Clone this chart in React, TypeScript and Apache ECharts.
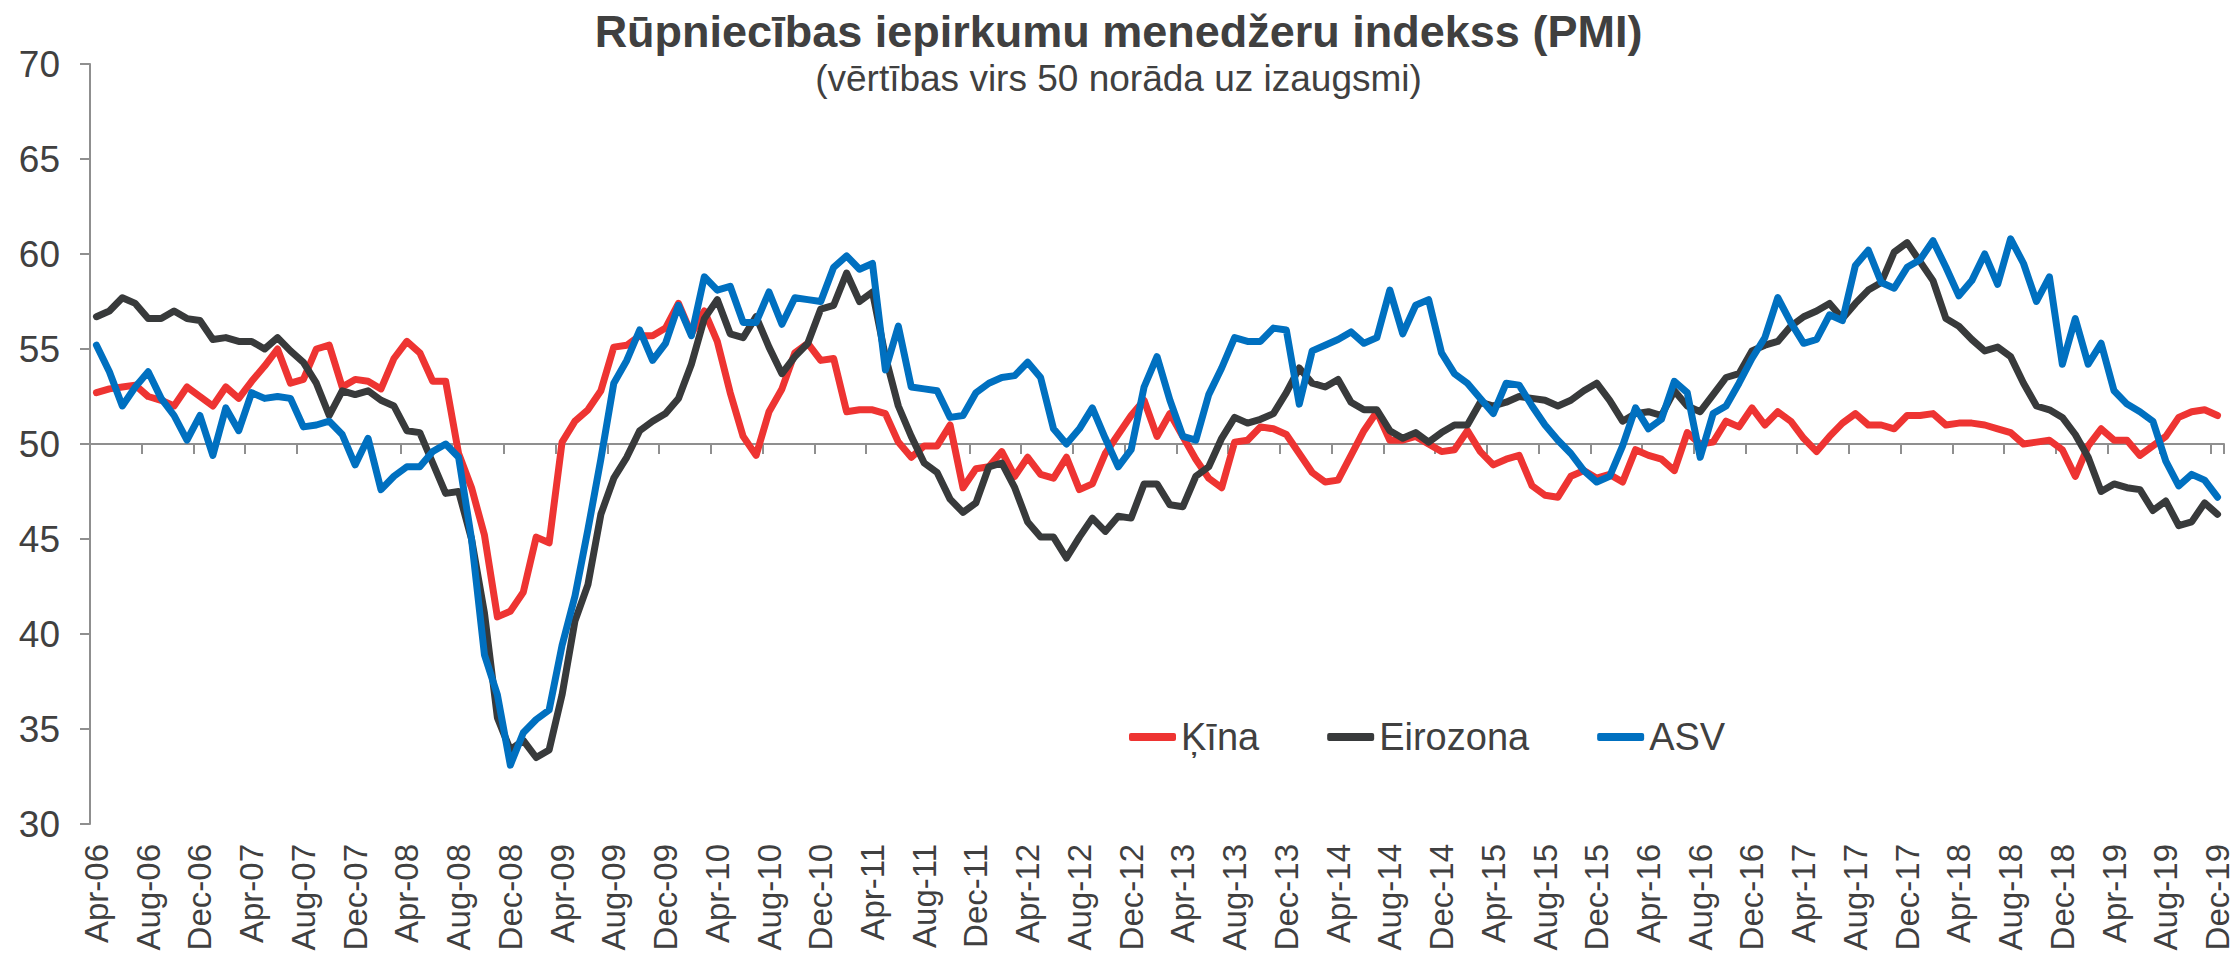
import React, { useEffect, useRef } from "react";
import * as echarts from "echarts";

const MONTH_NAMES = ["Jan", "Feb", "Mar", "Apr", "May", "Jun", "Jul", "Aug", "Sep", "Oct", "Nov", "Dec"];
const START_MONTH = 3; // April
const START_YEAR = 6; // 2006
const N_MONTHS = 165; // Apr-06 .. Dec-19

const categories: string[] = [];
for (let k = 0; k < N_MONTHS; k++) {
  const m = (START_MONTH + k) % 12;
  const y = START_YEAR + Math.floor((START_MONTH + k) / 12);
  categories.push(`${MONTH_NAMES[m]}-${String(y).padStart(2, "0")}`);
}

const seriesNames = ["Ķīna", "Eirozona", "ASV"];

const china = [
  52.7, 52.9, 53.0, 53.1, 52.5, 52.3, 52.0, 53.0, 52.5, 52.0, 53.0, 52.4,
  53.3, 54.1, 55.0, 53.2, 53.4, 55.0, 55.2, 53.0, 53.4, 53.3, 52.9, 54.5,
  55.4, 54.8, 53.3, 53.3, 49.5, 47.7, 45.2, 40.9, 41.2, 42.2, 45.1, 44.8,
  50.1, 51.2, 51.8, 52.8, 55.1, 55.2, 55.7, 55.7, 56.1, 57.4, 55.8, 57.0,
  55.4, 52.7, 50.4, 49.4, 51.7, 52.9, 54.8, 55.3, 54.4, 54.5, 51.7, 51.8,
  51.8, 51.6, 50.1, 49.3, 49.9, 49.9, 51.0, 47.7, 48.7, 48.8, 49.6, 48.3,
  49.3, 48.4, 48.2, 49.3, 47.6, 47.9, 49.5, 50.5, 51.5, 52.3, 50.4, 51.6,
  50.4, 49.2, 48.2, 47.7, 50.1, 50.2, 50.9, 50.8, 50.5, 49.5, 48.5, 48.0,
  48.1, 49.4, 50.7, 51.7, 50.2, 50.2, 50.4, 50.0, 49.6, 49.7, 50.7, 49.6,
  48.9, 49.2, 49.4, 47.8, 47.3, 47.2, 48.3, 48.6, 48.2, 48.4, 48.0, 49.7,
  49.4, 49.2, 48.6, 50.6, 50.0, 50.1, 51.2, 50.9, 51.9, 51.0, 51.7, 51.2,
  50.3, 49.6, 50.4, 51.1, 51.6, 51.0, 51.0, 50.8, 51.5, 51.5, 51.6, 51.0,
  51.1, 51.1, 51.0, 50.8, 50.6, 50.0, 50.1, 50.2, 49.7, 48.3, 49.9, 50.8,
  50.2, 50.2, 49.4, 49.9, 50.4, 51.4, 51.7, 51.8, 51.5,
];

const eurozone = [
  56.7, 57.0, 57.7, 57.4, 56.6, 56.6, 57.0, 56.6, 56.5, 55.5, 55.6, 55.4,
  55.4, 55.0, 55.6, 54.9, 54.3, 53.2, 51.5, 52.8, 52.6, 52.8, 52.3, 52.0,
  50.7, 50.6, 49.0, 47.4, 47.5, 45.0, 41.1, 35.6, 33.9, 34.4, 33.5, 33.9,
  36.8, 40.7, 42.6, 46.3, 48.2, 49.3, 50.7, 51.2, 51.6, 52.4, 54.2, 56.6,
  57.6, 55.8, 55.6, 56.7, 55.1, 53.7, 54.6, 55.3, 57.1, 57.3, 59.0, 57.5,
  58.0, 54.6, 52.0, 50.4, 49.0, 48.5, 47.1, 46.4, 46.9, 48.8, 49.0, 47.7,
  45.9, 45.1, 45.1, 44.0, 45.1, 46.1, 45.4, 46.2, 46.1, 47.9, 47.9, 46.8,
  46.7, 48.3, 48.8, 50.3, 51.4, 51.1, 51.3, 51.6, 52.7, 54.0, 53.2, 53.0,
  53.4, 52.2, 51.8, 51.8, 50.7, 50.3, 50.6, 50.1, 50.6, 51.0, 51.0, 52.2,
  52.0, 52.2, 52.5, 52.4, 52.3, 52.0, 52.3, 52.8, 53.2, 52.3, 51.2, 51.6,
  51.7, 51.5, 52.8, 52.0, 51.7, 52.6, 53.5, 53.7, 54.9, 55.2, 55.4, 56.2,
  56.7, 57.0, 57.4, 56.6, 57.4, 58.1, 58.5, 60.1, 60.6, 59.6, 58.6, 56.6,
  56.2, 55.5, 54.9, 55.1, 54.6, 53.2, 52.0, 51.8, 51.4, 50.5, 49.3, 47.5,
  47.9, 47.7, 47.6, 46.5, 47.0, 45.7, 45.9, 46.9, 46.3,
];

const usa = [
  55.2, 53.8, 52.0, 53.0, 53.8, 52.4, 51.5, 50.2, 51.5, 49.4, 51.9, 50.7,
  52.7, 52.4, 52.5, 52.4, 50.9, 51.0, 51.2, 50.5, 48.9, 50.3, 47.6, 48.3,
  48.8, 48.8, 49.6, 50.0, 49.3, 45.0, 38.9, 36.8, 33.1, 34.8, 35.5, 36.0,
  39.4, 42.0, 45.5, 49.2, 53.2, 54.4, 56.0, 54.4, 55.3, 57.3, 55.7, 58.8,
  58.1, 58.3, 56.4, 56.4, 58.0, 56.3, 57.7, 57.6, 57.5, 59.3, 59.9, 59.2,
  59.5, 53.9, 56.2, 53.0, 52.9, 52.8, 51.4, 51.5, 52.7, 53.2, 53.5, 53.6,
  54.3, 53.5, 50.8, 50.0, 50.8, 51.9, 50.3, 48.8, 49.7, 53.0, 54.6, 52.3,
  50.4, 50.2, 52.6, 54.0, 55.6, 55.4, 55.4, 56.1, 56.0, 52.1, 54.9, 55.2,
  55.5, 55.9, 55.3, 55.6, 58.1, 55.8, 57.3, 57.6, 54.8, 53.7, 53.2, 52.4,
  51.6, 53.2, 53.1, 52.0, 51.0, 50.2, 49.5, 48.6, 48.0, 48.3, 49.9, 51.9,
  50.8, 51.3, 53.3, 52.7, 49.3, 51.6, 52.0, 53.2, 54.5, 55.6, 57.7, 56.4,
  55.3, 55.5, 56.8, 56.5, 59.4, 60.2, 58.5, 58.2, 59.3, 59.7, 60.7, 59.3,
  57.8, 58.6, 60.0, 58.4, 60.8, 59.5, 57.5, 58.8, 54.2, 56.6, 54.2, 55.3,
  52.8, 52.1, 51.7, 51.2, 49.1, 47.8, 48.4, 48.1, 47.2,
];

const Y_MIN = 30;
const Y_MAX = 70;
const Y_STEP = 5;
const X_AXIS_CROSS = 50;

const TITLE = "Rūpniecības iepirkumu menedžeru indekss (PMI)";
const SUBTITLE = "(vērtības virs 50 norāda uz izaugsmi)";

const COLORS = ["#ee3432", "#383a3b", "#0070c0"];
const FONT = "'Liberation Sans', Arial, sans-serif";
const TEXT_COLOR = "#404040";
const AXIS_COLOR = "#8f8f8f";

const W = 2237;
const H = 967;
const GRID = { left: 90, right: 13, top: 64, bottom: 143 };

export default function App() {
  const ref = useRef<HTMLDivElement>(null);

  useEffect(() => {
    if (!ref.current) return;
    const chart = echarts.init(ref.current, undefined, { renderer: "svg" });
    const gridH = H - GRID.top - GRID.bottom;
    const crossOffset = -((X_AXIS_CROSS - Y_MIN) / (Y_MAX - Y_MIN)) * gridH;
    const allSeries = [china, eurozone, usa];

    chart.setOption({
      animation: false,
      backgroundColor: "#ffffff",
      title: {
        text: TITLE,
        subtext: SUBTITLE,
        left: "center",
        top: 4,
        itemGap: 6,
        textStyle: { fontFamily: FONT, fontSize: 45, fontWeight: "bold", color: TEXT_COLOR },
        subtextStyle: { fontFamily: FONT, fontSize: 37, color: TEXT_COLOR },
      },
      legend: {
        left: 1124,
        top: 713,
        icon: "roundRect",
        itemWidth: 47,
        itemHeight: 8,
        itemGap: 68,
        data: seriesNames,
        textStyle: { fontFamily: FONT, fontSize: 38, color: TEXT_COLOR },
      },
      grid: { ...GRID, containLabel: false },
      xAxis: [
        {
          type: "category",
          data: categories,
          boundaryGap: true,
          position: "bottom",
          axisLine: { show: false },
          axisTick: { show: false },
          axisLabel: {
            interval: 3,
            rotate: 90,
            margin: 20,
            fontFamily: FONT,
            fontSize: 33,
            color: TEXT_COLOR,
          },
          splitLine: { show: false },
        },
        {
          type: "category",
          data: categories,
          boundaryGap: true,
          position: "bottom",
          offset: crossOffset,
          axisLine: { show: true, onZero: false, lineStyle: { color: AXIS_COLOR, width: 2 } },
          axisTick: { show: true, interval: 3, length: 10, lineStyle: { color: AXIS_COLOR, width: 2 } },
          axisLabel: { show: false },
          splitLine: { show: false },
        },
      ],
      yAxis: {
        type: "value",
        min: Y_MIN,
        max: Y_MAX,
        interval: Y_STEP,
        axisLine: { show: true, lineStyle: { color: AXIS_COLOR, width: 2 } },
        axisTick: { show: true, length: 10, lineStyle: { color: AXIS_COLOR, width: 2 } },
        splitLine: { show: false },
        axisLabel: { margin: 30, fontFamily: FONT, fontSize: 37, color: TEXT_COLOR },
      },
      series: seriesNames.map((name, k) => ({
        name,
        type: "line",
        xAxisIndex: 0,
        data: allSeries[k],
        symbol: "none",
        silent: true,
        color: COLORS[k],
        lineStyle: { width: 7, color: COLORS[k], cap: "round", join: "round" },
        emphasis: { disabled: true },
      })),
    });

    return () => chart.dispose();
  }, []);

  return (
    <div
      ref={ref}
      style={{ position: "absolute", left: 0, top: 0, width: W, height: H }}
    />
  );
}
